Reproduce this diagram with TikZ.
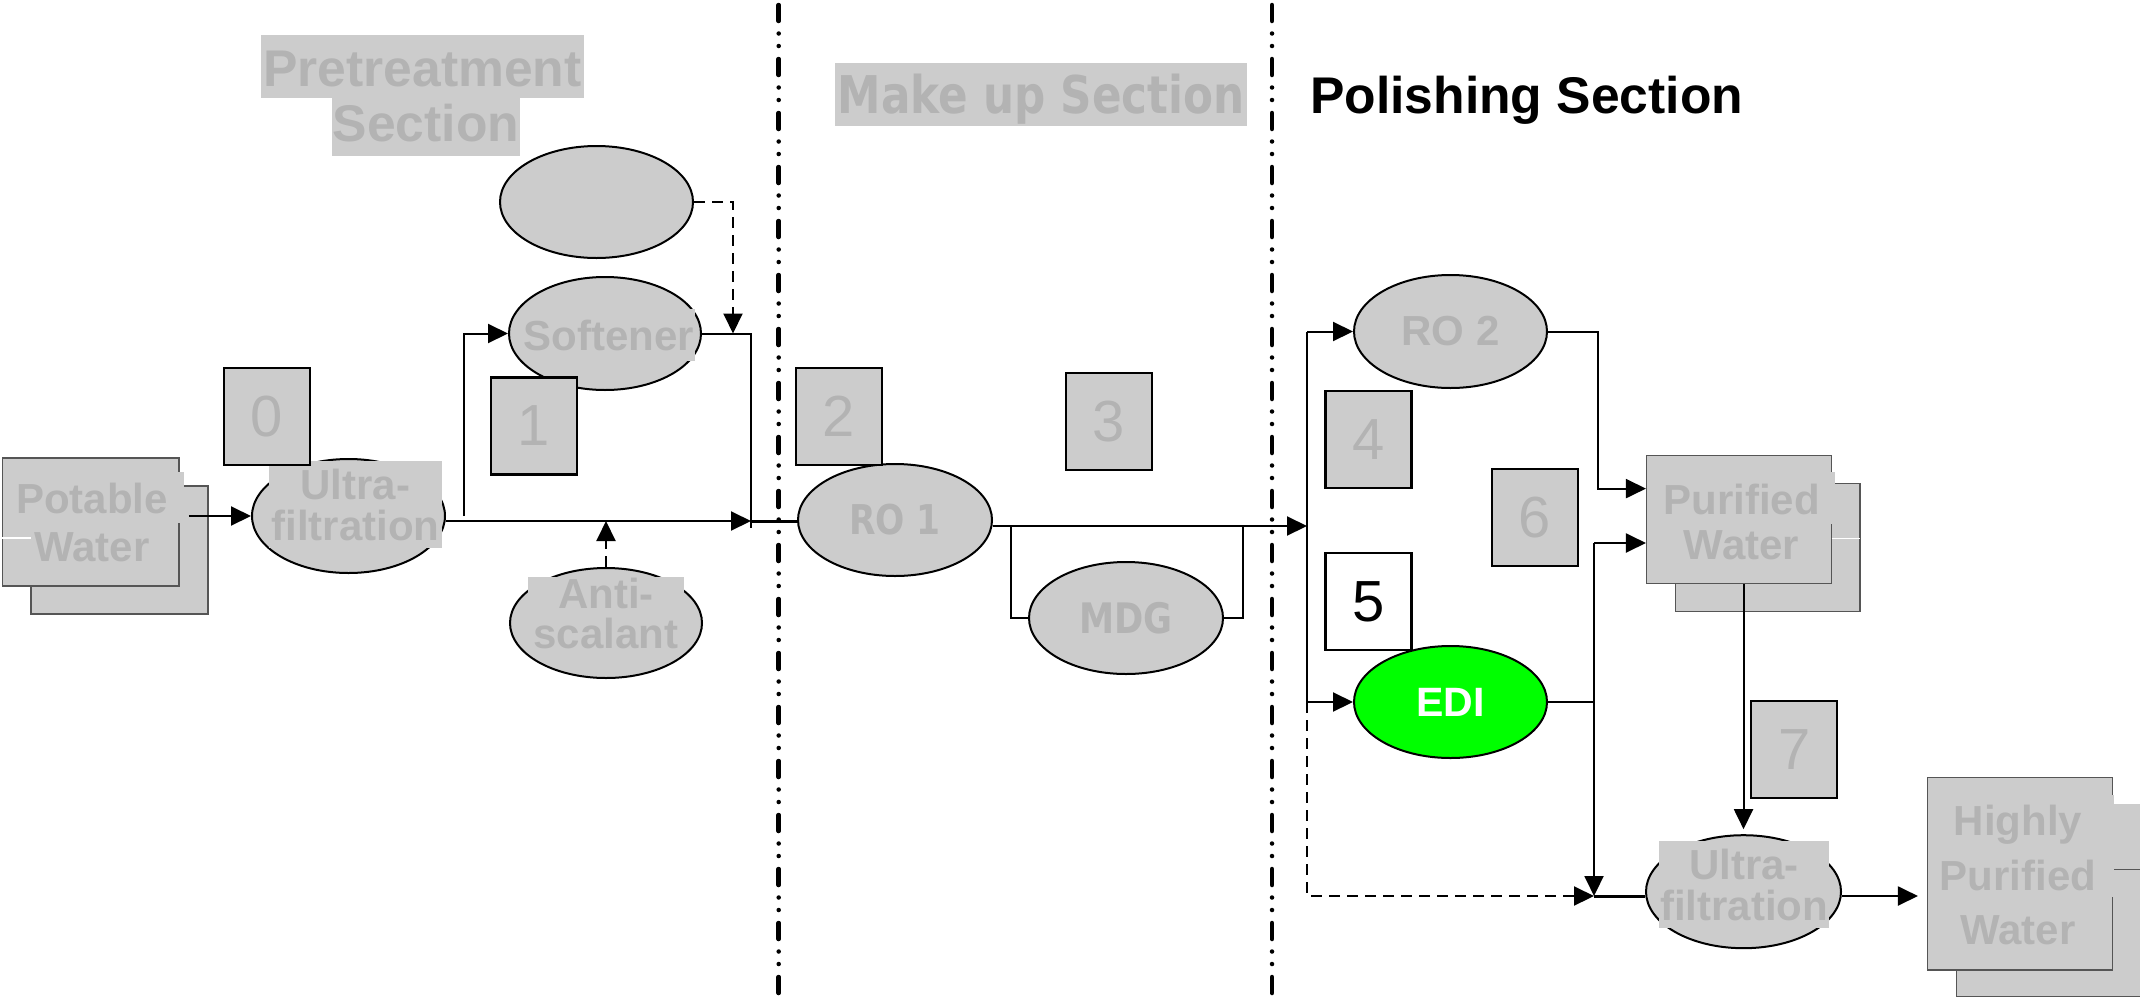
\documentclass[tikz,border=0pt]{standalone}
\usepackage{fontspec}
\setmainfont{Liberation Sans}
\newfontfamily\wideface[FakeStretch=0.84]{DejaVu Sans}
\usetikzlibrary{shapes.geometric,arrows.meta}

\definecolor{boxgrey}{HTML}{CCCCCC}
\definecolor{txtgrey}{HTML}{B3B3B3}
\definecolor{edgegrey}{HTML}{555555}
\definecolor{edigreen}{HTML}{00FF00}

\newcommand\fsz[2]{\fontsize{#1}{#2}\selectfont}

\tikzset{
  conn/.style={line width=2pt},
  heavy/.style={line width=3pt},
  tip/.style={-{Triangle[length=20pt,width=19pt]}},
  flow/.style={conn,tip},
  feed/.style={conn,dash pattern=on 11pt off 7pt},
  feedflow/.style={feed,tip},
  unit/.style={ellipse,draw=black,line width=2pt,fill=boxgrey,inner sep=0pt,text=txtgrey},
  numbox/.style={rectangle,draw=black,line width=2.2pt,fill=boxgrey,inner sep=0pt,
    minimum width=86pt,minimum height=97pt,text=txtgrey,font=\fsz{58}{60}},
  tank/.style={rectangle,draw=edgegrey,line width=1.5pt,fill=boxgrey,inner sep=0pt},
  tanktext/.style={text=txtgrey,align=center,inner sep=0pt,font=\fsz{42}{48}\bfseries},
  patch/.style={fill=boxgrey,text=txtgrey,inner sep=0pt,align=center},
  title/.style={fill=boxgrey,text=txtgrey,inner sep=0pt,anchor=base},
  divider/.style={line width=4.5pt,line cap=round,
    dash pattern=on 16pt off 12.5pt on 0pt off 12.5pt on 0pt off 13pt},
}

\begin{document}
\begin{tikzpicture}[x=1pt,y=-1pt]
\useasboundingbox (0,0) rectangle (2140,1001);
\clip (0,0) rectangle (2140,1001);
\fill[white] (0,0) rectangle (2140,1001);

% section dividers
\draw[divider] (778.7,5) -- (778.7,1001);
\draw[divider] (1272,5) -- (1272,1001);

% section titles
\node[title,text height=51pt,text depth=12pt,inner xsep=2.5pt,font=\fsz{51.6}{56}\bfseries]
  (pre1) at (422.5,86) {Pretreatment};
\node[title,text height=43.7pt,text depth=14.3pt,inner xsep=1pt,font=\fsz{51.6}{56}\bfseries]
  (pre2) at (426,141.7) {Section};
\node[title,text height=50.8pt,text depth=11.7pt,inner xsep=2.2pt,font=\wideface\bfseries\fsz{52}{56}]
  (mku) at (1041.2,113.8) {Make up Section};
\node[anchor=base west,inner sep=0pt,font=\fsz{51.6}{56}\bfseries]
  (pol) at (1310,113) {Polishing Section};

% potable water tank
\node[tank,minimum width=177pt,minimum height=128pt] (potB) at (119.5,550) {};
\node[tank,minimum width=176.7pt,minimum height=128pt] (potF) at (90.65,522) {};
\fill[boxgrey] (150,471.7) rectangle (183.7,522.7);
\draw[white,line width=1.5pt] (2.3,538) -- (31,538);
\node[tanktext] (potT) at (92,522) {Potable\\Water};

% purified water tank
\node[tank,minimum width=184.3pt,minimum height=128.4pt] (purB) at (1767.85,547.5) {};
\node[tank,minimum width=185pt,minimum height=127.6pt] (purF) at (1739.2,519.5) {};
\fill[boxgrey] (1800,472.3) rectangle (1834.7,524);
\draw[white,line width=1.5pt] (1831.7,538.7) -- (1860,538.7);
\node[tanktext,font=\fsz{42}{45}\bfseries] (purT) at (1741.5,522.2) {Purified\\Water};

% highly purified water tank
\node[tank,minimum width=184.6pt,minimum height=191.7pt] (hiB) at (2049,900.85) {};
\node[tank,minimum width=184.6pt,minimum height=192.7pt] (hiF) at (2020,873.65) {};
\fill[boxgrey] (2080,795) rectangle (2114,897);
\fill[boxgrey] (2113,804) rectangle (2141,868.5);
\draw[edgegrey,line width=1.5pt] (2114,869.3) -- (2141,869.3);
\node[tanktext,font=\fsz{42}{54.5}\bfseries] (hiT) at (2018,875.2) {Highly\\Purified\\Water};

% process units
\node[unit,minimum width=193pt,minimum height=112pt] (dosing) at (596.5,202) {};
\node[unit,minimum width=192pt,minimum height=113pt] (soft) at (605,333.5) {};
\node[patch,minimum width=172pt,minimum height=52pt,font=\fsz{42}{46}\bfseries]
  (softT) at (609,335) {Softener};
\node[unit,minimum width=193pt,minimum height=114pt] (uf1) at (348.5,516) {};
\node[patch,minimum width=173pt,minimum height=87pt,font=\fsz{42}{41}\bfseries]
  (uf1T) at (355.5,504.5) {Ultra-\\filtration};
\node[unit,minimum width=192pt,minimum height=110pt] (anti) at (606,623) {};
\node[patch,minimum width=156pt,minimum height=72pt,font=\fsz{42}{40}\bfseries]
  (antiT) at (606,613) {Anti-\\scalant};
\node[unit,minimum width=194pt,minimum height=112pt,font=\wideface\bfseries\fsz{41}{44}]
  (ro1) at (895,520) {RO 1};
\node[unit,minimum width=194pt,minimum height=112pt,font=\wideface\bfseries\fsz{42}{44}]
  (mdg) at (1126,618) {MDG};
\node[unit,minimum width=193pt,minimum height=113pt,font=\fsz{42}{44}\bfseries]
  (ro2) at (1450.5,331.5) {RO 2};
\node[unit,fill=edigreen,text=white,minimum width=193pt,minimum height=112pt,font=\fsz{41}{44}\bfseries]
  (edi) at (1450.5,702) {EDI};
\node[unit,minimum width=195pt,minimum height=113pt] (uf2) at (1743.5,891.7) {};
\node[patch,minimum width=170pt,minimum height=87.6pt,font=\fsz{42}{41}\bfseries]
  (uf2T) at (1744,884.5) {Ultra-\\filtration};

% step numbers
\node[numbox] (n0) at (267,416.5) {0};
\node[numbox] (n1) at (533.8,426) {1};
\node[numbox] (n2) at (839,416.5) {2};
\node[numbox] (n3) at (1109,421.5) {3};
\node[numbox] (n4) at (1368.5,439.8) {4};
\node[numbox,fill=white,text=black] (n5) at (1368.5,601.8) {5};
\node[numbox] (n6) at (1535,517.8) {6};
\node[numbox] (n7) at (1794.3,749.5) {7};

% junction points
\coordinate (mainEnd) at (751,521);
\coordinate (softDrop) at (751,333.5);
\coordinate (softTap) at (464,516);
\coordinate (busIn) at (1307,526);
\coordinate (mdgL) at (1011,526);
\coordinate (mdgR) at (1242.5,526);
\coordinate (busTop) at (1307,331.5);
\coordinate (busEdi) at (1307,702);
\coordinate (busBot) at (1307,896);
\coordinate (mix) at (1594,896);
\coordinate (pwIn1) at (1598,488.6);
\coordinate (pwIn2) at (1594,543);

% pretreatment
\draw[flow] ([xshift=9pt]potF.east |- uf1.west) -- (uf1.west);
\draw[flow] (uf1.east |- mainEnd) -- (mainEnd);
\draw[flow] (softTap) |- (soft.west);
\draw[conn] (soft.east) -- (softDrop) -- ([yshift=-7pt]mainEnd);
\draw[feedflow] (dosing.east) -| ([xshift=-18pt]softDrop);
\draw[feedflow] (anti.north) -- (anti.north |- mainEnd);
\draw[heavy] (mainEnd) -- (ro1.west |- mainEnd);

% make up
\draw[flow] (ro1.east |- busIn) -- (busIn);
\draw[conn] (mdgL) |- (mdg.west);
\draw[conn] (mdg.east) -| (mdgR);

% polishing
\draw[conn] (busTop) -- (busEdi);
\draw[flow] (busTop) -- (ro2.west);
\draw[flow] (busEdi) -- (edi.west);
\draw[feedflow] (busEdi) -- (busBot) -- (mix);
\draw[flow] (ro2.east) -| (pwIn1) -- (purF.west |- pwIn1);
\draw[conn] (edi.east) -- (edi.east -| pwIn2);
\draw[flow] (pwIn2) -- (purF.west |- pwIn2);
\draw[flow] (pwIn2) -- (mix);
\draw[heavy] (mix) -- (uf2.west |- mix);
\draw[flow] (purF.south -| uf2.north) -- ([yshift=5pt]uf2.north);
\draw[flow] (uf2.east |- mix) -- ([xshift=-9pt]hiF.west |- mix);
\end{tikzpicture}
\end{document}
